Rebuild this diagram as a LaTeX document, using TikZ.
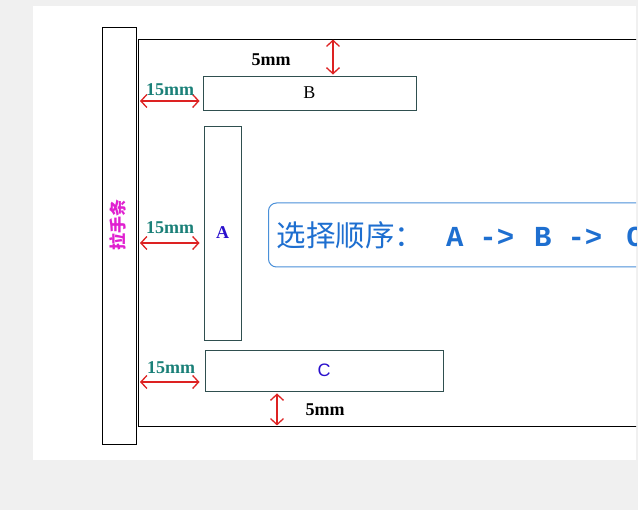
\documentclass[tikz,border=0pt]{standalone}
\usepackage{fontspec}
\usepackage{color}
\setmainfont{Liberation Serif}
\newfontfamily\cjkfont{Noto Sans CJK SC}
\newfontfamily\codefont{Liberation Mono}
\newfontfamily\labelsans{Liberation Sans}
\usetikzlibrary{positioning}
\usetikzlibrary{arrows.meta}
\definecolor{pagegray}{HTML}{F0F0F0}
\definecolor{boxline}{HTML}{2F4F4F}
\definecolor{dimred}{HTML}{DD2222}
\definecolor{dimteal}{HTML}{1A8078}
\definecolor{handlepink}{HTML}{E020D0}
\definecolor{letterblue}{HTML}{2A10CC}
\definecolor{orderblue}{HTML}{1E6FD0}
\definecolor{orderline}{HTML}{4A90D9}

\begin{document}
\begin{tikzpicture}[x=1pt, y=-1pt,
  part/.style={draw=boxline, line width=0.9pt, rectangle, inner sep=0pt, fill=white},
  dimarrow/.style={draw=dimred, line width=1.3pt, {Straight Barb[length=6pt,width=13pt]}-{Straight Barb[length=6pt,width=13pt]}},
  gaplabel/.style={text=dimteal, font=\bfseries\fontsize{18}{18}\selectfont, inner sep=0pt},
  edgelabel/.style={font=\bfseries\fontsize{18}{18}\selectfont, inner sep=0pt}]
\useasboundingbox (0,0) rectangle (638,510);
% Page
\fill [pagegray] (0,0) rectangle (638,510);
\fill [white] (33,6) rectangle (636,460);
\begin{scope}
\clip (33,6) rectangle (636,460);
% Frame and handle
\node [part, draw=black, minimum width=562pt, minimum height=387pt] (frame) at (419,232.5) {};
\node [part, draw=black, minimum width=34pt, minimum height=417pt] (handle) at (119,235.5) {};
\node [text=handlepink, rotate=90, font=\cjkfont\bfseries\fontsize{17}{17}\selectfont, inner sep=0pt] (handletext) at (118,225) {拉手条};
% Boxes
\node [part, minimum width=213pt, minimum height=34pt, font=\fontsize{18}{18}\selectfont] (boxB) at (309.5,93) {B};
\node [part, minimum width=37pt, minimum height=214pt, text=letterblue, font=\bfseries\fontsize{18}{18}\selectfont] (boxA) at (222.5,233) {A};
\node [part, minimum width=238pt, minimum height=41pt, text=letterblue, font=\labelsans\fontsize{18}{18}\selectfont] (boxC) at (324,370.5) {C};
% Order
\node [draw=orderline, line width=1pt, rounded corners=8pt, anchor=west, text width=430pt, align=left,
  minimum height=64pt, inner sep=8pt, text=orderblue] (order) at (268,235)
  {{\cjkfont\fontsize{29.5}{30}\selectfont 选择顺序：}\hspace{22pt}{\codefont\bfseries\fontsize{29}{29}\selectfont A\hspace{16pt}->\hspace{20pt}B\hspace{16pt}->\hspace{24pt}C}};
% Arrows
\coordinate (topgap) at (333,0);
\coordinate (bottomgap) at (277,0);
\coordinate (gapB) at (140,101);
\coordinate (gapA) at (140,243);
\coordinate (gapC) at (140,382);
\draw [dimarrow] ([yshift=-1pt]frame.north -| topgap) -- ([yshift=1pt]boxB.north -| topgap);
\draw [dimarrow] ([yshift=-2pt]boxC.south -| bottomgap) -- ([yshift=1pt]frame.south -| bottomgap);
\draw [dimarrow] (gapB) -- ([xshift=-3pt]boxB.west |- gapB);
\draw [dimarrow] (gapA) -- ([xshift=-4pt]boxA.west |- gapA);
\draw [dimarrow] (gapC) -- ([xshift=-5pt]boxC.west |- gapC);
% Labels
\node [edgelabel] (toplabel) at (271,60) {5mm};
\node [edgelabel] (bottomlabel) at (325,410) {5mm};
\node [gaplabel] (labelB) at (170,90) {15mm};
\node [gaplabel] (labelA) at (170,228) {15mm};
\node [gaplabel] (labelC) at (171,368) {15mm};
\end{scope}
\end{tikzpicture}
\end{document}
